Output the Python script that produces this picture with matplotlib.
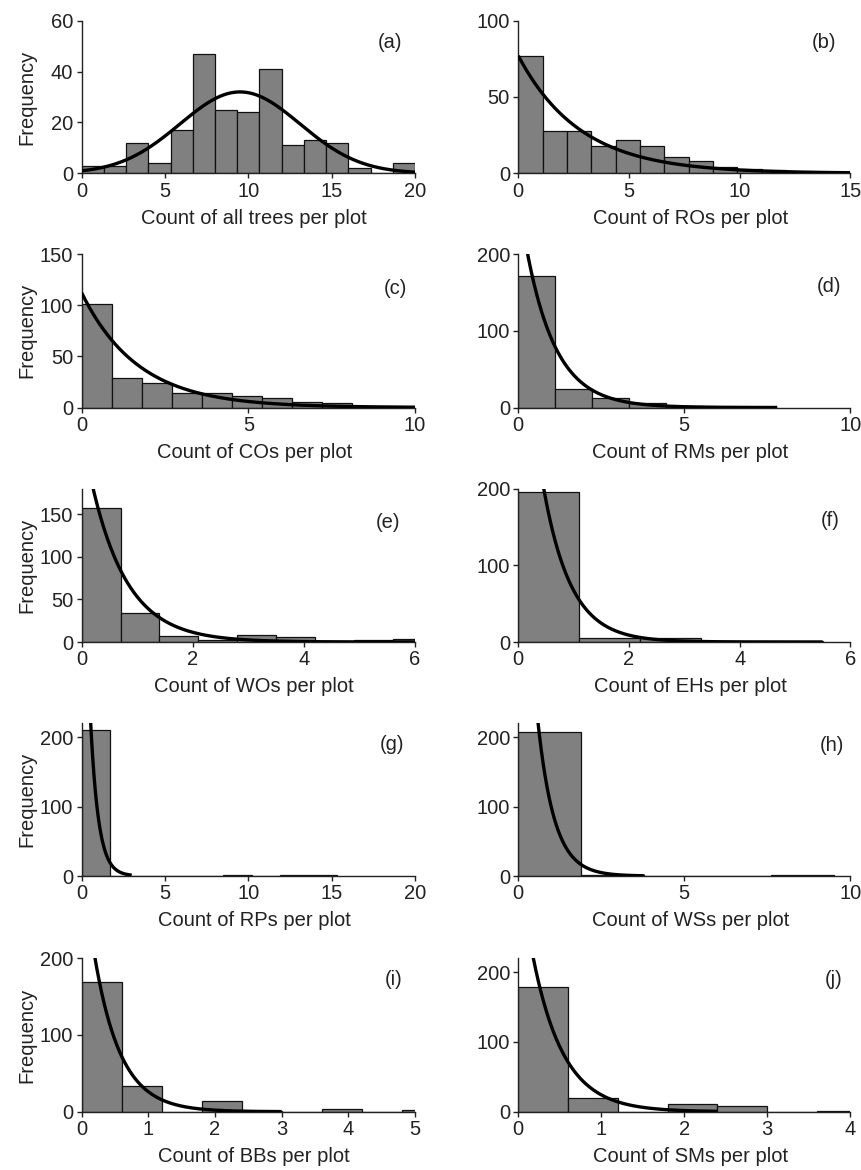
import numpy as np
import matplotlib
matplotlib.use("Agg")
import matplotlib.pyplot as plt

plt.rcParams['font.family'] = ['Liberation Sans', 'DejaVu Sans']

# ---------------- data ----------------
panel_ids = ["(a)", "(b)", "(c)", "(d)", "(e)", "(f)", "(g)", "(h)", "(i)", "(j)"]
x_labels = ["Count of all trees per plot", "Count of ROs per plot",
            "Count of COs per plot", "Count of RMs per plot",
            "Count of WOs per plot", "Count of EHs per plot",
            "Count of RPs per plot", "Count of WSs per plot",
            "Count of BBs per plot", "Count of SMs per plot"]

bin_widths = [4/3, 1.1, 0.9, 1.11, 0.7, 1.1, 1.7, 1.9, 0.6, 0.6]

counts_a = [3, 3, 12, 4, 17, 47, 25, 24, 41, 11, 13, 12, 2, 0, 4]
counts_b = [77, 28, 28, 18, 22, 18, 11, 8, 4, 3, 2]
counts_c = [101, 29, 24, 14, 14, 11, 9, 5, 4]
counts_d = [171, 24, 12, 6, 2, 1, 1]
counts_e = [157, 34, 7, 2, 8, 6, 0, 2, 3]
counts_f = [196, 5, 5, 1, 1]
counts_g = [210, 0, 0, 0, 0, 1, 0, 1, 1]
counts_h = [208, 1, 0, 0, 1]
counts_i = [169, 33, 0, 14, 1, 0, 4, 0, 2]
counts_j = [179, 20, 0, 11, 8, 0, 1]
all_counts = [counts_a, counts_b, counts_c, counts_d, counts_e,
              counts_f, counts_g, counts_h, counts_i, counts_j]

# fitted curve for (a): normal (mean, sd, peak height)
normal_fit_a = (9.5, 3.6, 32.0)
# fitted exponential curves for (b)-(j): (A, k) in y = A*exp(-k x)
exp_fits = [None, (77, 0.356), (112, 0.59), (274, 1.12), (247, 1.54),
            (506, 2.02), (682, 2.1), (724, 2.0), (333, 2.55), (359, 2.7)]
curve_ends = [20, 15, 10, 7.8, 6, 5.5, 3, 3.8, 3, 2.4]

x_limits = [20, 15, 10, 10, 6, 6, 20, 10, 5, 4]
x_ticks = [[0, 5, 10, 15, 20], [0, 5, 10, 15], [0, 5, 10], [0, 5, 10],
           [0, 2, 4, 6], [0, 2, 4, 6], [0, 5, 10, 15, 20], [0, 5, 10],
           [0, 1, 2, 3, 4, 5], [0, 1, 2, 3, 4]]
y_limits = [60, 100, 150, 200, 180, 200, 220, 220, 200, 220]
y_ticks = [[0, 20, 40, 60], [0, 50, 100], [0, 50, 100, 150], [0, 100, 200],
           [0, 50, 100, 150], [0, 100, 200], [0, 100, 200], [0, 100, 200],
           [0, 100, 200], [0, 100, 200]]

# ---------------- layout (pixels) ----------------
W, H = 862, 1170
col_x = [(81.7, 415.0), (518.3, 850.3)]
row_y = [(20.7, 173.3), (254.0, 407.5), (488.5, 642.0), (723.3, 876.0), (958.3, 1111.7)]
label_pos = [(0.925, 0.86), (0.92, 0.86), (0.94, 0.775), (0.935, 0.79),
             (0.92, 0.78), (0.94, 0.79), (0.93, 0.86), (0.945, 0.855),
             (0.935, 0.86), (0.95, 0.86)]

fig = plt.figure(figsize=(W / 100, H / 100), dpi=100)
text_color = '#222222'
bar_color = '#808080'

for i in range(10):
    r, c = divmod(i, 2)
    x0, x1 = col_x[c]
    y0, y1 = row_y[r]
    ax = fig.add_axes([x0 / W, 1 - y1 / H, (x1 - x0) / W, (y1 - y0) / H])
    bw = bin_widths[i]
    cnt = np.array(all_counts[i], dtype=float)
    edges = np.arange(len(cnt)) * bw
    ax.bar(edges, cnt, width=bw, align='edge', color=bar_color,
           edgecolor='#111111', linewidth=0.9, zorder=2)
    xs = np.linspace(0, curve_ends[i], 400)
    if i == 0:
        mu, sd, pk = normal_fit_a
        ys = pk * np.exp(-0.5 * ((xs - mu) / sd) ** 2)
    else:
        A, k = exp_fits[i]
        ys = A * np.exp(-k * xs)
    ax.plot(xs, ys, color='black', lw=2.4, zorder=3, solid_capstyle='butt')
    ax.set_xlim(0, x_limits[i])
    ax.set_ylim(0, y_limits[i])
    ax.set_xticks(x_ticks[i])
    ax.set_yticks(y_ticks[i])
    for s in ['top', 'right']:
        ax.spines[s].set_visible(False)
    for s in ['left', 'bottom']:
        ax.spines[s].set_color('#222222')
        ax.spines[s].set_linewidth(1.0)
    ax.tick_params(direction='out', length=3.5, width=1.0, colors='#222222',
                   labelsize=14.5, labelcolor=text_color, pad=2.5)
    ax.text(label_pos[i][0], label_pos[i][1], panel_ids[i], transform=ax.transAxes,
            ha='center', va='center', fontsize=14.5, color=text_color)
    # x label
    fig.text(((x0 + x1) / 2 + 6) / W, 1 - (y1 + 45) / H, x_labels[i],
             ha='center', va='center', fontsize=14.5, color=text_color)
    if c == 0:
        fig.text(27 / W, 1 - ((y0 + y1) / 2) / H, "Frequency", rotation=90,
                 ha='center', va='center', fontsize=14.5, color=text_color)

fig.savefig("out.png", dpi=100, facecolor='white')
